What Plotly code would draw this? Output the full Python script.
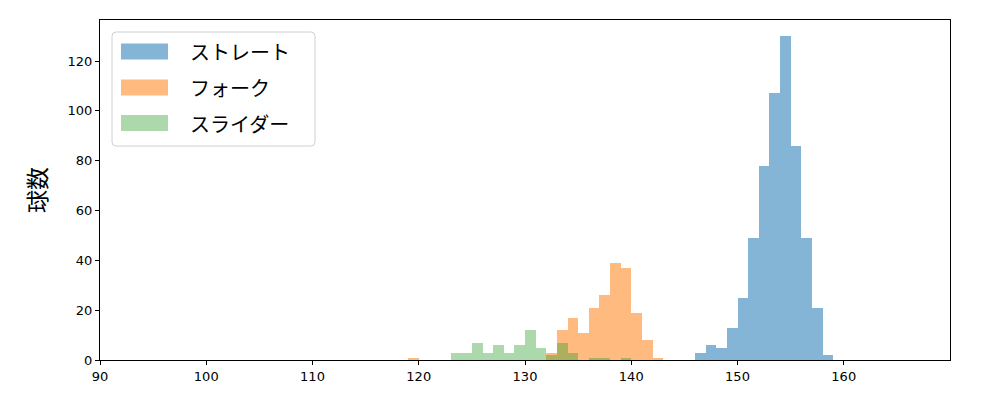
import plotly.graph_objects as go

# Histogram data: bins of width 1 (left edges start at *_start)
labels = ["ストレート", "フォーク", "スライダー"]
colors = ["rgba(31,119,180,0.55)", "rgba(255,127,14,0.53)", "rgba(44,160,44,0.4)"]

straight_start = 146
straight_counts = [3, 6, 5, 13, 25, 49, 78, 107, 130, 86, 49, 21, 2]

fork_start = 119
fork_counts = [1, 0, 0, 0, 0, 0, 0, 0, 0, 0, 0, 0, 0, 3, 12, 17, 11, 21, 26, 39, 37, 19, 8, 1]

slider_start = 123
slider_counts = [3, 3, 7, 3, 6, 3, 6, 12, 5, 2, 7, 3, 0, 1, 1, 0, 1]

x_ticks = [90, 100, 110, 120, 130, 140, 150, 160]
y_ticks = [0, 20, 40, 60, 80, 100, 120]

series = [
    (straight_start, straight_counts),
    (fork_start, fork_counts),
    (slider_start, slider_counts),
]

fig = go.Figure()
for (start, counts), name, color in zip(series, labels, colors):
    centers = [start + i + 0.5 for i in range(len(counts))]
    fig.add_trace(go.Bar(
        x=centers, y=counts, width=1.0, name=name,
        marker=dict(color=color, line=dict(width=0)),
        showlegend=False,
    ))

# Plot area in screen pixels (page has 8px body margin)
PX0, PX1, PY0, PY1 = 100, 950, 20, 360
OFF = 8

def px(x):
    return (x - PX0) / (PX1 - PX0)

def py(y):
    return (PY1 - y) / (PY1 - PY0)

# Custom legend (matplotlib-style)
lx0, lx1, ly0, ly1 = 112, 315, 32, 146
shapes = []
r = 4
path = (f"M {px(lx0 + r)},{py(ly0)} L {px(lx1 - r)},{py(ly0)} "
        f"Q {px(lx1)},{py(ly0)} {px(lx1)},{py(ly0 + r)} "
        f"L {px(lx1)},{py(ly1 - r)} Q {px(lx1)},{py(ly1)} {px(lx1 - r)},{py(ly1)} "
        f"L {px(lx0 + r)},{py(ly1)} Q {px(lx0)},{py(ly1)} {px(lx0)},{py(ly1 - r)} "
        f"L {px(lx0)},{py(ly0 + r)} Q {px(lx0)},{py(ly0)} {px(lx0 + r)},{py(ly0)} Z")
shapes.append(dict(type="path", xref="paper", yref="paper", path=path,
                   line=dict(color="#d0d0d0", width=1), fillcolor="rgba(255,255,255,0.8)",
                   layer="above"))
annotations = []
row_y = [51.5, 87.5, 123]
for yc, name, color in zip(row_y, labels, colors):
    shapes.append(dict(type="rect", xref="paper", yref="paper",
                       x0=px(121), x1=px(168), y0=py(yc - 8), y1=py(yc + 8),
                       fillcolor=color, line=dict(width=0), layer="above"))
    annotations.append(dict(xref="paper", yref="paper", x=px(188), y=py(yc),
                            text=name, showarrow=False, xanchor="left", yanchor="middle",
                            font=dict(family="Noto Sans CJK JP", size=20, color="#000")))

fig.update_layout(
    width=1000, height=400,
    margin=dict(l=PX0 - OFF, r=1000 - PX1 + OFF, t=PY0 - OFF, b=400 - PY1 + OFF),
    paper_bgcolor="white", plot_bgcolor="white",
    barmode="overlay", bargap=0,
    shapes=shapes, annotations=annotations,
    font=dict(family="DejaVu Sans", size=13, color="#000"),
)
fig.update_xaxes(range=[90, 170], tickvals=x_ticks, ticks="outside", ticklen=4,
                 tickcolor="#000", showline=True, linecolor="#000", linewidth=1.2,
                 mirror=True, showgrid=False, zeroline=False,
                 tickfont=dict(family="DejaVu Sans", size=13))
fig.update_yaxes(range=[0, 136.5], tickvals=y_ticks, ticks="outside", ticklen=4,
                 tickcolor="#000", showline=True, linecolor="#000", linewidth=1.2,
                 mirror=True, showgrid=False, zeroline=False,
                 tickfont=dict(family="DejaVu Sans", size=13),
                 title=dict(text="球数", font=dict(family="Noto Sans CJK JP", size=23),
                            standoff=14))

fig.write_html("out.html")
